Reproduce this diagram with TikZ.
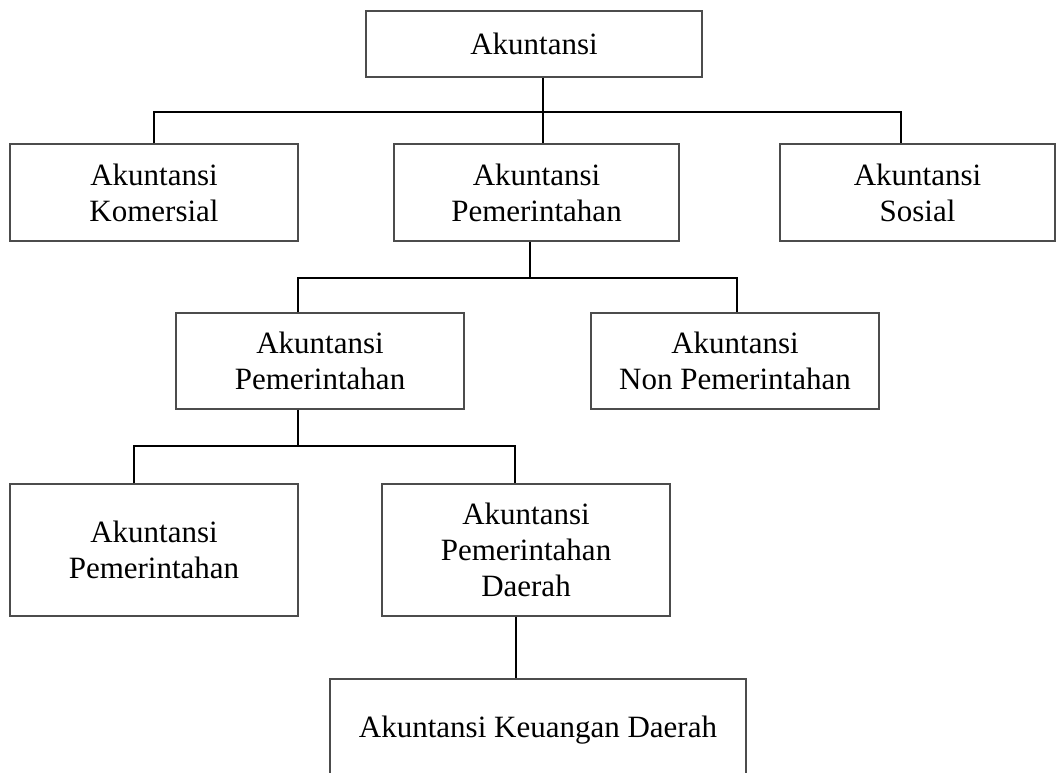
\documentclass[tikz,border=0pt]{standalone}
\usepackage{fontspec}
\setmainfont{Liberation Serif}
\usepackage{tikz}
\usetikzlibrary{positioning,calc}

\begin{document}
\begin{tikzpicture}[x=1pt, y=1pt,
	box/.style={
		draw=black!70,
		rectangle,
		line width=1.2pt,
		align=center,
		inner sep=0pt,
		font=\fontsize{31}{36}\selectfont
	},
	conn/.style={line width=2pt, color=black}
	]
	
	\clip (0,0) rectangle (1063,773);
	
	% Nodes of the tree
	\node[box, minimum width=336pt, minimum height=66pt] (root) at (534,729) {Akuntansi};
	
	\node[box, minimum width=288pt, minimum height=97pt] (kom) at (154,580.5) {Akuntansi\\Komersial};
	\node[box, minimum width=285pt, minimum height=97pt] (pem1) at (536.5,580.5) {Akuntansi\\Pemerintahan};
	\node[box, minimum width=275pt, minimum height=97pt] (sos) at (917.5,580.5) {Akuntansi\\Sosial};
	
	\node[box, minimum width=288pt, minimum height=96pt] (pem2) at (320,412) {Akuntansi\\Pemerintahan};
	\node[box, minimum width=288pt, minimum height=96pt] (nonpem) at (735,412) {Akuntansi\\Non Pemerintahan};
	
	\node[box, minimum width=288pt, minimum height=132pt] (pem3) at (154,223) {Akuntansi\\Pemerintahan};
	\node[box, minimum width=288pt, minimum height=132pt] (daerah) at (526,223) {Akuntansi\\Pemerintahan\\Daerah};
	
	\node[box, minimum width=416pt, minimum height=102pt] (keu) at (538,43) {Akuntansi Keuangan Daerah};
	
	% Connectors
	\draw[conn] ([xshift=9pt]root.south) -- ([xshift=6.5pt]pem1.north);
	\draw[conn] (kom.north) -- ++(0,31) coordinate (busA) -- ([xshift=-16.5pt]sos.north |- busA) -- ([xshift=-16.5pt]sos.north);
	
	\draw[conn] ([xshift=-6.5pt]pem1.south) -- ++(0,-36) coordinate (busB);
	\draw[conn] ([xshift=-22pt]pem2.north) |- (busB) -| ([xshift=2pt]nonpem.north);
	
	\draw[conn] ([xshift=-22pt]pem2.south) -- ++(0,-36) coordinate (busC);
	\draw[conn] ([xshift=-20pt]pem3.north) |- (busC) -| ([xshift=-11pt]daerah.north);
	
	\draw[conn] ([xshift=-10pt]daerah.south) -- ([xshift=-22pt]keu.north);

\end{tikzpicture}
\end{document}
